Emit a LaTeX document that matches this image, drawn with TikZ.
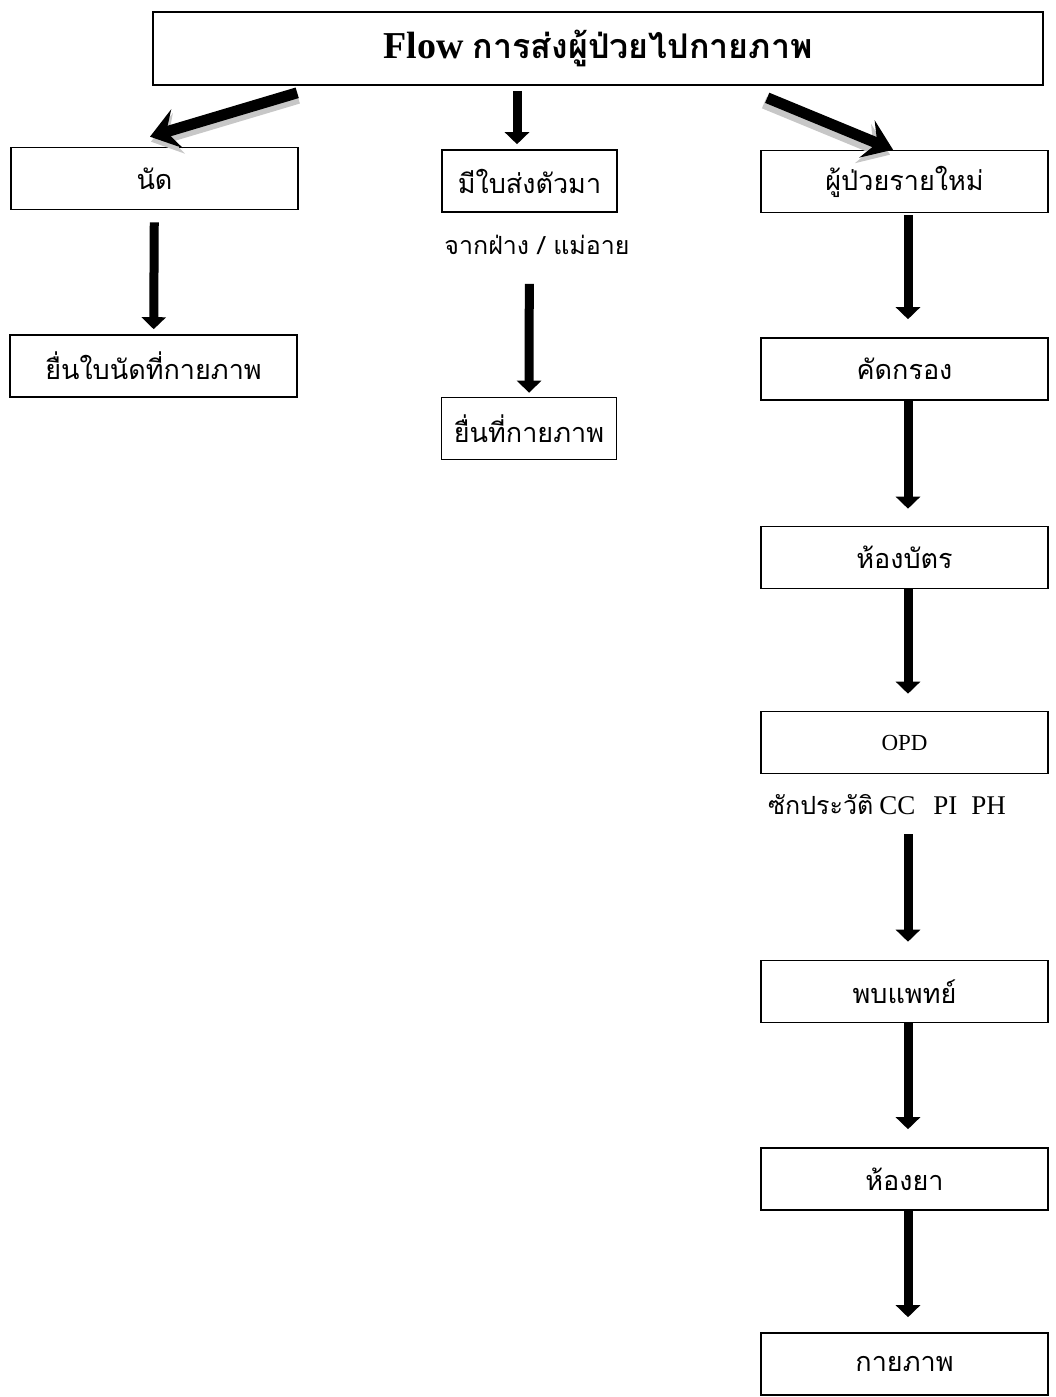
\documentclass[tikz,border=0pt]{standalone}
\usepackage{fontspec}
\setmainfont{Liberation Serif}
\newfontfamily\thai[Script=Thai]{Loma}
\usetikzlibrary{arrows.meta,positioning,calc}

\begin{document}
\begin{tikzpicture}[
        x=1pt, y=-1pt,
        box/.style={rectangle, draw, line width=1.6pt, minimum height=62pt, inner sep=0pt, font=\thai\fontsize{27}{32}\selectfont},
        widebox/.style={box, minimum width=287pt},
        narrowbox/.style={box, minimum width=175pt},
        title/.style={rectangle, draw, line width=1.6pt, minimum width=890pt, minimum height=73pt, inner sep=0pt},
        note/.style={inner sep=0pt, font=\thai\fontsize{25}{30}\selectfont},
        arrow/.style={-{Triangle[width=24pt,length=12pt]}, line width=9pt},
        fatarrow/.style={-{Stealth[width=40pt,length=28pt,inset=11pt]}, line width=11pt},
        shade/.style={draw=black!22, line width=12pt, -{Stealth[width=42pt,length=29pt,inset=11pt]}}
      ]
        \useasboundingbox (0,0) rectangle (1055,1397);

        % Title
        \node[title] (flow) at (598,48.5) {\fontsize{38}{44}\selectfont\bfseries Flow {\thai\fontsize{34}{40}\selectfont การส่งผู้ป่วยไปกายภาพ}};

        % Left branch
        \node[widebox] (nad) at (154.5,178.5) {นัด};
        \node[widebox] (nadfile) at (153.5,366) {ยื่นใบนัดที่กายภาพ};

        % Middle branch
        \node[narrowbox] (refer) at (529.5,181) {มีใบส่งตัวมา};
        \node[note] (from) at (537,245) {จากฝ่าง / แม่อาย};
        \node[narrowbox] (referfile) at (529,428.5) {ยื่นที่กายภาพ};

        % Right branch
        \node[widebox] (newpt) at (904.5,181.5) {ผู้ป่วยรายใหม่};
        \node[widebox] (screen) at (904.5,369) {คัดกรอง};
        \node[widebox] (card) at (904.5,557.5) {ห้องบัตร};
        \node[widebox, font=\fontsize{23}{27}\selectfont] (opd) at (904.5,742.5) {OPD};
        \node[inner sep=0pt, font=\fontsize{27}{32}\selectfont] (history) at (887,805) {{\thai\fontsize{25}{30}\selectfont ซักประวัติ}\hspace{6pt}CC\hspace{18pt}PI\hspace{14pt}PH};
        \node[widebox] (doctor) at (904.5,991.5) {พบแพทย์};
        \node[widebox] (pharm) at (904.5,1179) {ห้องยา};
        \node[widebox] (physio) at (904.5,1364) {กายภาพ};

        % Arrows from title (grey shade first)
        \draw[shade, transform canvas={shift={(1pt,-5pt)}}] ([xshift=145pt,yshift=-7pt]flow.south west) -- ([xshift=-4.5pt,yshift=10pt]nad.north);
        \draw[fatarrow] ([xshift=145pt,yshift=-7pt]flow.south west) -- ([xshift=-4.5pt,yshift=10pt]nad.north);
        \draw[arrow] ([xshift=-12.5pt,yshift=-5pt]refer.north |- flow.south) -- ([xshift=-12.5pt,yshift=5pt]refer.north);
        \draw[shade, transform canvas={shift={(-3pt,-5pt)}}] ([xshift=615pt,yshift=-12pt]flow.south west) -- ([xshift=-11.5pt]newpt.north);
        \draw[fatarrow] ([xshift=615pt,yshift=-12pt]flow.south west) -- ([xshift=-11.5pt]newpt.north);

        % Arrows down
        \draw[arrow, shorten <=12pt, shorten >=5pt] (nad) -- (nadfile);
        \draw[arrow, shorten <=71pt, shorten >=4pt] (refer) -- (referfile);
        \draw[arrow, shorten <=2pt, shorten >=18pt] ([xshift=3.5pt]newpt.south) -- ([xshift=3.5pt]screen.north);
        \draw[arrow, shorten >=17pt] ([xshift=3.5pt]screen.south) -- ([xshift=3.5pt]card.north);
        \draw[arrow, shorten >=17pt] ([xshift=3.5pt]card.south) -- ([xshift=3.5pt]opd.north);
        \draw[arrow, shorten <=60pt, shorten >=18pt] ([xshift=3.5pt]opd.south) -- ([xshift=3.5pt]doctor.north);
        \draw[arrow, shorten >=18pt] ([xshift=3.5pt]doctor.south) -- ([xshift=3.5pt]pharm.north);
        \draw[arrow, shorten >=15pt] ([xshift=3.5pt]pharm.south) -- ([xshift=3.5pt]physio.north);
      \end{tikzpicture}
\end{document}
